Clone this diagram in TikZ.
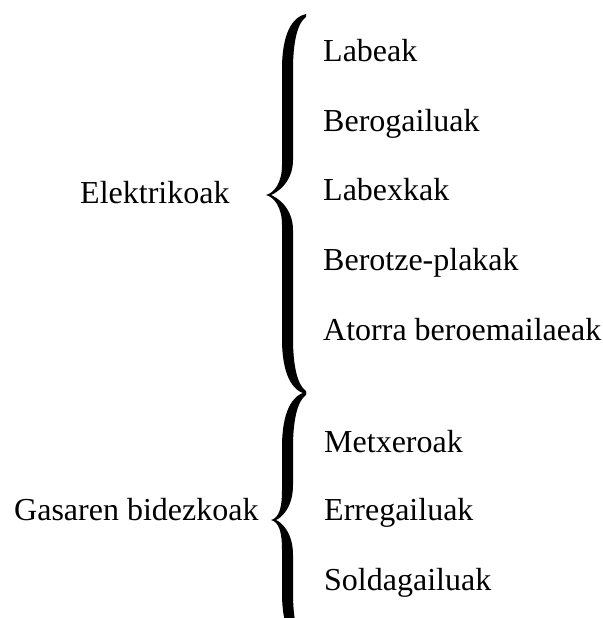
\documentclass[tikz,border=0pt]{standalone}
\usepackage{fontspec}
\setmainfont{Liberation Serif}
\newcommand\mybracefill[6]{% #1 xend, #2 xstemL, #3 xtip, #4 ytop, #5 ytip, #6 ybot
 \fill (#1,#4) .. controls ({#2+10},{#4+3}) and (#2,{#4+20}) .. (#2,{#4+55})
  -- (#2,{#5-30}) .. controls (#2,{#5-12}) and ({#3+8},{#5-2}) .. (#3,#5)
  .. controls ({#3+8},{#5+2}) and (#2,{#5+12}) .. (#2,{#5+30})
  -- (#2,{#6-55}) .. controls (#2,{#6-20}) and ({#2+10},{#6-3}) .. (#1,#6)
  -- (#1,{#6-3}) .. controls ({#2+15},{#6-9}) and ({#2+11},{#6-30}) .. ({#2+11},{#6-55})
  -- ({#2+11},{#5+35}) .. controls ({#2+11},{#5+12}) and ({#3+10},{#5+2}) .. ({#3+5},#5)
  .. controls ({#3+10},{#5-2}) and ({#2+11},{#5-12}) .. ({#2+11},{#5-35})
  -- ({#2+11},{#4+55}) .. controls ({#2+11},{#4+30}) and ({#2+15},{#4+9}) .. (#1,{#4+3}) -- cycle;}
\begin{document}
\begin{tikzpicture}[x=1pt,y=-1pt,
  lbl/.style={anchor=base west,inner sep=0pt,font=\fontsize{32}{38}\selectfont}]
\clip (0,0) rectangle (602,618);
\fill[white] (0,0) rectangle (602,618);
% braces
\mybracefill{306}{282}{266}{14}{195}{394}
\mybracefill{306}{282}{271}{392}{520}{648}
% left labels
\node[lbl] (elek) at (80,203) {Elektrikoak};
\node[lbl] (gas) at (14,520) {Gasaren bidezkoak};
% right items
\node[lbl] (i1) at (323,62) {Labeak};
\node[lbl] (i2) at (323,131) {Berogailuak};
\node[lbl] (i3) at (323,200) {Labexkak};
\node[lbl] (i4) at (323,270) {Berotze-plakak};
\node[lbl] (i5) at (323,340) {Atorra beroemailaeak};
\node[lbl] (j1) at (324,452) {Metxeroak};
\node[lbl] (j2) at (324,520) {Erregailuak};
\node[lbl] (j3) at (324,590) {Soldagailuak};
\end{tikzpicture}
\end{document}
